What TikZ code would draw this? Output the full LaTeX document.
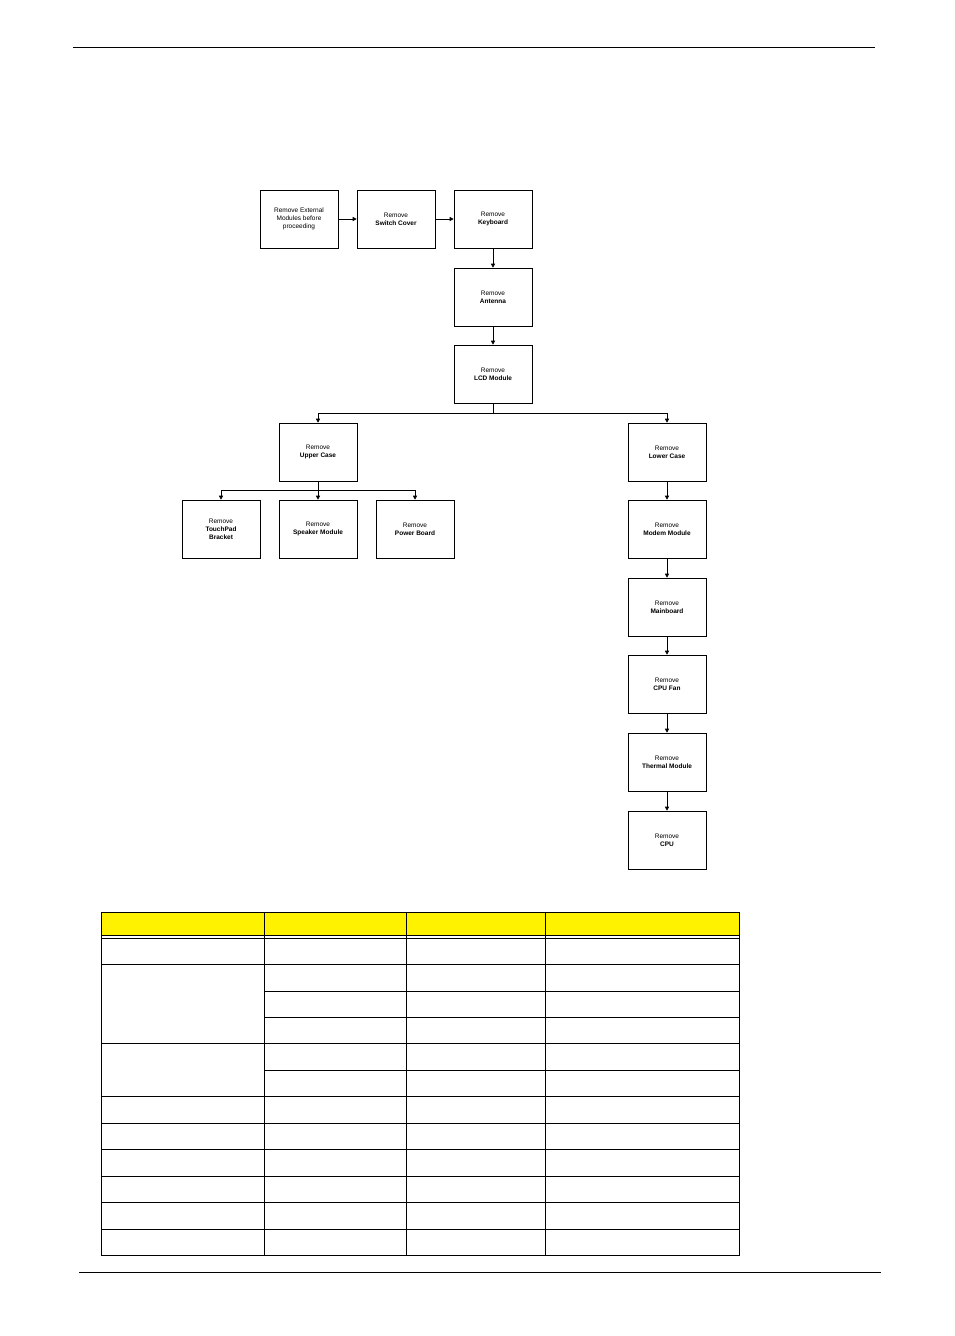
\documentclass[tikz,border=0pt]{standalone}
\usepackage{fontspec}
\setmainfont{Liberation Sans}
\usetikzlibrary{arrows.meta}
\begin{document}
\begin{tikzpicture}[x=1pt,y=-1pt,
  bx/.style={draw,line width=0.6pt,minimum width=78pt,minimum height=58pt,align=center,font=\fontsize{6.5}{8}\selectfont,inner sep=1pt},
  ar/.style={-{Triangle[length=4pt,width=4pt]},line width=0.6pt},
  tl/.style={line width=0.9pt}]
\useasboundingbox (0,0) rectangle (954,1336);
\draw[line width=0.6pt] (73,47) -- (875,47);
\draw[line width=0.6pt] (79,1272) -- (881,1272);
\node[bx] (ext) at (299,219) {Remove External\\Modules before\\proceeding};
\node[bx] (sw) at (396,219) {Remove\\\textbf{Switch Cover}};
\node[bx] (kb) at (493,219) {Remove\\\textbf{Keyboard}};
\node[bx] (ant) at (493,297) {Remove\\\textbf{Antenna}};
\node[bx] (lcd) at (493,374) {Remove\\\textbf{LCD Module}};
\node[bx] (up) at (318,452) {Remove\\\textbf{Upper Case}};
\node[bx] (low) at (667,452) {Remove\\\textbf{Lower Case}};
\node[bx] (tp) at (221,529) {Remove\\\textbf{TouchPad}\\\textbf{Bracket}};
\node[bx] (spk) at (318,529) {Remove\\\textbf{Speaker Module}};
\node[bx] (pwr) at (415,529) {Remove\\\textbf{Power Board}};
\node[bx] (mod) at (667,529) {Remove\\\textbf{Modem Module}};
\node[bx] (mb) at (667,607) {Remove\\\textbf{Mainboard}};
\node[bx] (fan) at (667,684) {Remove\\\textbf{CPU Fan}};
\node[bx] (th) at (667,762) {Remove\\\textbf{Thermal Module}};
\node[bx] (cpu) at (667,840) {Remove\\\textbf{CPU}};
\draw[ar] (ext) -- (sw);
\draw[ar] (sw) -- (kb);
\draw[ar] (kb) -- (ant);
\draw[ar] (ant) -- (lcd);
\coordinate (b1) at (493,413);
\draw[line width=0.6pt] (lcd.south) -- (b1);
\draw[ar] (b1) -| (up.north);
\draw[ar] (b1) -| (low.north);
\coordinate (b2) at (318,490);
\draw[line width=0.6pt] (up.south) -- (b2);
\draw[ar] (b2) -| (tp.north);
\draw[ar] (b2) -- (spk.north);
\draw[ar] (b2) -| (pwr.north);
\draw[ar] (low) -- (mod);
\draw[ar] (mod) -- (mb);
\draw[ar] (mb) -- (fan);
\draw[ar] (fan) -- (th);
\draw[ar] (th) -- (cpu);
% table
\fill[yellow] (101,912) rectangle (739,935);
\draw[tl] (101,912) rectangle (739,1255);
\foreach \y in {935,938,964,1043,1096,1123,1149,1176,1202,1229} \draw[tl] (101,\y) -- (739,\y);
\foreach \y in {991,1017,1070} \draw[tl] (264,\y) -- (739,\y);
\foreach \x in {264,406,545} \draw[tl] (\x,912) -- (\x,1255);
\end{tikzpicture}
\end{document}
